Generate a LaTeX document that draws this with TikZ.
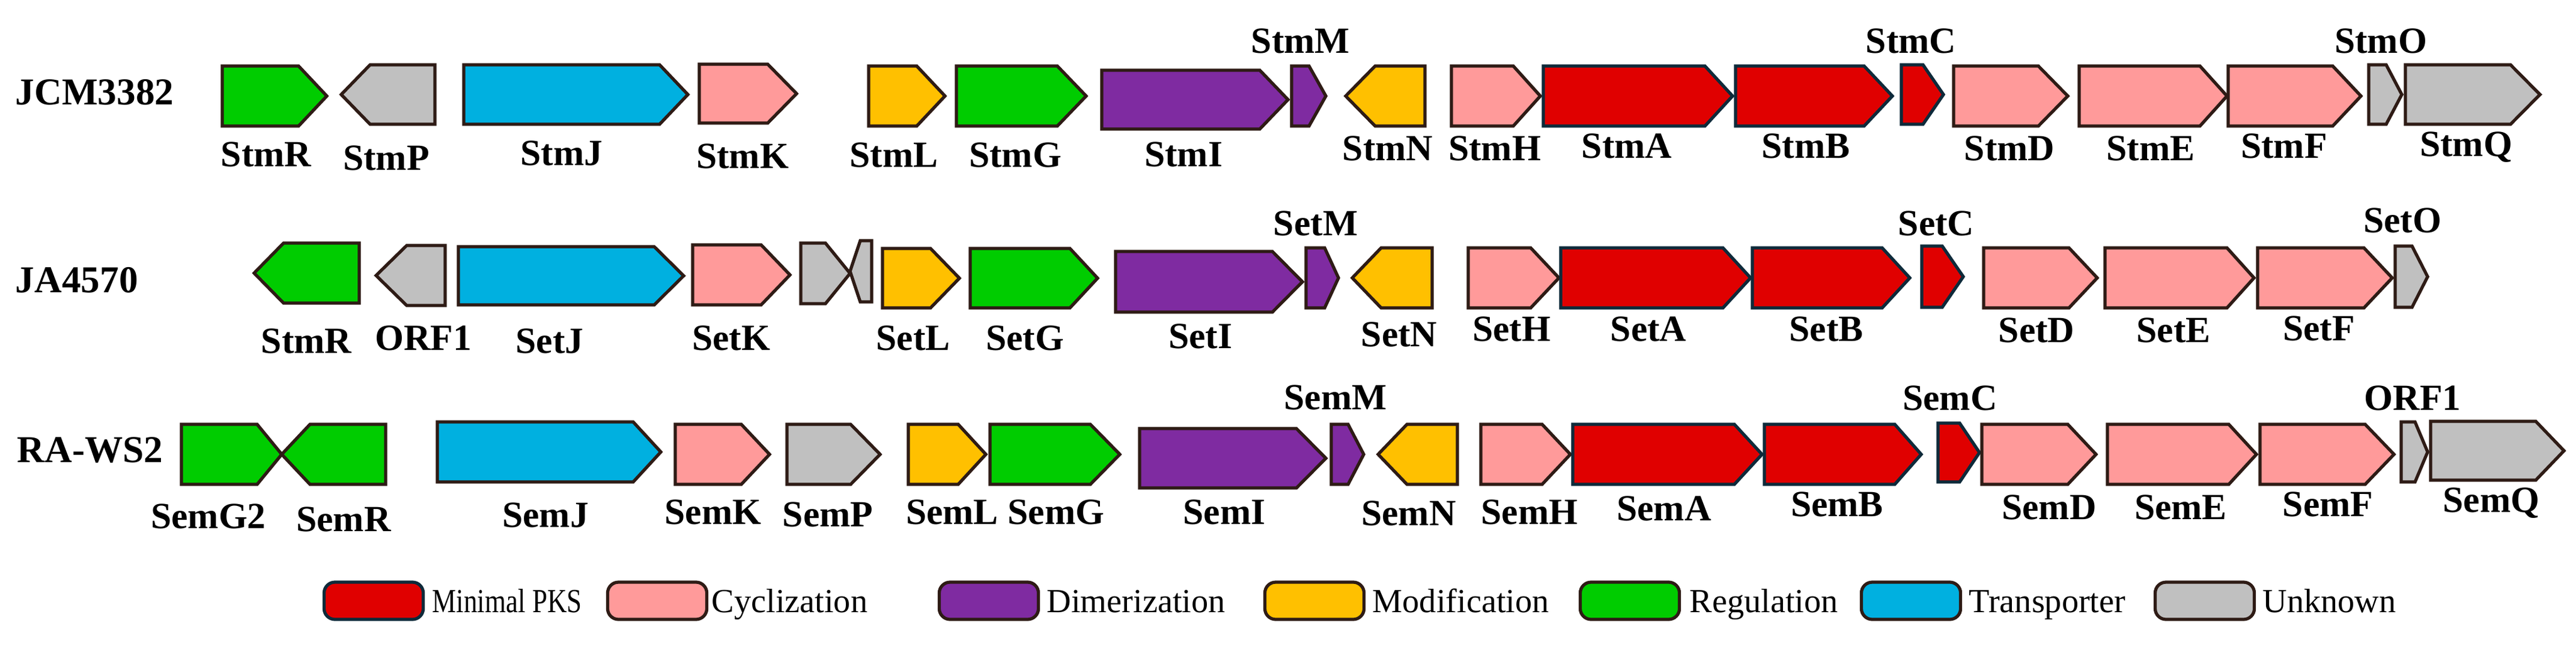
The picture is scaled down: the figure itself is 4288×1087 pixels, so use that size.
\documentclass[tikz,border=0pt]{standalone}
\usepackage{graphicx}
\usepackage{fontspec}
\setmainfont{Liberation Serif}
\definecolor{cpks}{HTML}{E00000}
\definecolor{ccyc}{HTML}{FF9A9A}
\definecolor{cdim}{HTML}{7F2BA1}
\definecolor{cmod}{HTML}{FFC000}
\definecolor{creg}{HTML}{00CC00}
\definecolor{ctra}{HTML}{00B0E0}
\definecolor{cunk}{HTML}{C0C0C0}
\definecolor{outl}{HTML}{2E1B15}
\definecolor{pksout}{HTML}{0E2A3A}
\newcommand\rgene[6]{\draw[#6] (#1,#4) -- (#2,#4) -- (#3,{(#4+#5)/2}) -- (#2,#5) -- (#1,#5) -- cycle;}
\newcommand\lgene[6]{\draw[#6] (#3,#4) -- (#2,#4) -- (#1,{(#4+#5)/2}) -- (#2,#5) -- (#3,#5) -- cycle;}
\begin{document}
\begin{tikzpicture}[x=0.01cm,y=-0.01cm,
  ol/.style={draw=outl, line width=1.5pt, line join=miter},
  pks/.style={ol, draw=pksout, fill=cpks},
  cyc/.style={ol, fill=ccyc},
  dim/.style={ol, fill=cdim},
  mod/.style={ol, fill=cmod},
  reg/.style={ol, fill=creg},
  tra/.style={ol, fill=ctra},
  unk/.style={ol, fill=cunk},
  gl/.style={font=\fontsize{17.5}{20}\selectfont\bfseries, anchor=base, inner sep=0pt},
  sl/.style={font=\fontsize{18}{20}\selectfont\bfseries, anchor=base west, inner sep=0pt},
  ll/.style={font=\fontsize{16}{19}\selectfont, anchor=base west, inner sep=0pt},
  legbox/.style={ol, rounded corners=0.18cm, minimum width=1.65cm, minimum height=0.62cm, inner sep=0pt}]
\useasboundingbox (0,0) rectangle (4288,1087);

% ---------- Row 1: JCM3382 ----------
\node[sl] (s1) at (25,174) {JCM3382};
\rgene{370}{497}{544}{110}{210}{reg}
\lgene{568}{616}{724}{108}{207}{unk}
\rgene{772}{1098}{1145}{108}{207}{tra}
\rgene{1164}{1278}{1326}{107}{205}{cyc}
\rgene{1446}{1526}{1573}{110}{210}{mod}
\rgene{1592}{1760}{1808}{110}{210}{reg}
\rgene{1834}{2097}{2144}{117}{215}{dim}
\rgene{2150}{2179}{2207}{110}{210}{dim}
\lgene{2240}{2289}{2372}{110}{210}{mod}
\rgene{2416}{2519}{2564}{110}{210}{cyc}
\rgene{2569}{2838}{2884}{110}{210}{pks}
\rgene{2889}{3103}{3150}{110}{210}{pks}
\rgene{3165}{3201}{3235}{108}{207}{pks}
\rgene{3252}{3393}{3442}{110}{210}{cyc}
\rgene{3461}{3662}{3707}{110}{210}{cyc}
\rgene{3709}{3883}{3930}{110}{210}{cyc}
\rgene{3943}{3972}{3998}{108}{207}{unk}
\rgene{4004}{4179}{4228}{108}{207}{unk}
\node[gl] (a1) at (443,277) {StmR};
\node[gl] (a2) at (643,283) {StmP};
\node[gl] (a3) at (935,275) {StmJ};
\node[gl] (a4) at (1236,280) {StmK};
\node[gl] (a5) at (1488,278) {StmL};
\node[gl] (a6) at (1690,278) {StmG};
\node[gl] (a7) at (1970,277) {StmI};
\node[gl] (a8) at (2165,88) {StmM};
\node[gl] (a9) at (2310,267) {StmN};
\node[gl] (a10) at (2488,267) {StmH};
\node[gl] (a11) at (2708,263) {StmA};
\node[gl] (a12) at (3006,263) {StmB};
\node[gl] (a13) at (3181,88) {StmC};
\node[gl] (a14) at (3345,267) {StmD};
\node[gl] (a15) at (3580,267) {StmE};
\node[gl] (a16) at (3802,263) {StmF};
\node[gl] (a17) at (3963,88) {StmO};
\node[gl] (a18) at (4105,260) {StmQ};

% ---------- Row 2: JA4570 ----------
\node[sl] (s2) at (25,487) {JA4570};
\lgene{423}{472}{598}{405}{505}{reg}
\lgene{626}{677}{741}{409}{509}{unk}
\rgene{763}{1089}{1138}{411}{508}{tra}
\rgene{1153}{1267}{1315}{408}{508}{cyc}
\rgene{1333}{1374}{1415}{405}{506}{unk}
\lgene{1415}{1432}{1451}{401}{503}{unk}
\rgene{1469}{1549}{1597}{414}{513}{mod}
\rgene{1615}{1781}{1827}{414}{513}{reg}
\rgene{1857}{2118}{2168}{419}{520}{dim}
\rgene{2174}{2205}{2228}{413}{513}{dim}
\lgene{2251}{2299}{2384}{413}{513}{mod}
\rgene{2444}{2548}{2595}{413}{513}{cyc}
\rgene{2598}{2868}{2914}{413}{513}{pks}
\rgene{2917}{3133}{3179}{413}{513}{pks}
\rgene{3199}{3233}{3268}{410}{512}{pks}
\rgene{3302}{3444}{3491}{413}{513}{cyc}
\rgene{3504}{3707}{3752}{413}{513}{cyc}
\rgene{3758}{3935}{3982}{413}{513}{cyc}
\rgene{3987}{4015}{4041}{410}{512}{unk}
\node[gl] (b1) at (510,588) {StmR};
\node[gl] (b2) at (705,583) {ORF1};
\node[gl] (b3) at (915,588) {SetJ};
\node[gl] (b4) at (1217,583) {SetK};
\node[gl] (b5) at (1520,583) {SetL};
\node[gl] (b6) at (1706,583) {SetG};
\node[gl] (b7) at (1998,580) {SetI};
\node[gl] (b8) at (2190,392) {SetM};
\node[gl] (b9) at (2329,577) {SetN};
\node[gl] (b10) at (2516,568) {SetH};
\node[gl] (b11) at (2744,568) {SetA};
\node[gl] (b12) at (3040,568) {SetB};
\node[gl] (b13) at (3223,392) {SetC};
\node[gl] (b14) at (3390,570) {SetD};
\node[gl] (b15) at (3618,570) {SetE};
\node[gl] (b16) at (3860,567) {SetF};
\node[gl] (b17) at (3999,387) {SetO};

% ---------- Row 3: RA-WS2 ----------
\node[sl] (s3) at (28,770) {RA-WS2};
\rgene{302}{428}{469}{707}{807}{reg}
\lgene{469}{516}{642}{707}{807}{reg}
\rgene{728}{1054}{1100}{703}{803}{tra}
\rgene{1124}{1234}{1281}{707}{807}{cyc}
\rgene{1310}{1416}{1465}{707}{807}{unk}
\rgene{1512}{1595}{1641}{707}{807}{mod}
\rgene{1648}{1815}{1864}{707}{807}{reg}
\rgene{1897}{2158}{2207}{714}{813}{dim}
\rgene{2216}{2244}{2270}{707}{807}{dim}
\lgene{2294}{2342}{2426}{707}{807}{mod}
\rgene{2465}{2567}{2614}{707}{807}{cyc}
\rgene{2618}{2887}{2933}{707}{807}{pks}
\rgene{2937}{3154}{3198}{707}{807}{pks}
\rgene{3226}{3262}{3295}{705}{803}{pks}
\rgene{3299}{3442}{3489}{707}{807}{cyc}
\rgene{3508}{3710}{3756}{707}{807}{cyc}
\rgene{3762}{3937}{3985}{707}{807}{cyc}
\rgene{3997}{4020}{4041}{703}{803}{unk}
\rgene{4046}{4221}{4268}{702}{800}{unk}
\node[gl] (c1) at (347,880) {SemG2};
\node[gl] (c2) at (572,885) {SemR};
\node[gl] (c3) at (908,878) {SemJ};
\node[gl] (c4) at (1187,873) {SemK};
\node[gl] (c5) at (1378,877) {SemP};
\node[gl] (c6) at (1585,873) {SemL};
\node[gl] (c7) at (1758,873) {SemG};
\node[gl] (c8) at (2038,873) {SemI};
\node[gl] (c9) at (2223,682) {SemM};
\node[gl] (c10) at (2345,875) {SemN};
\node[gl] (c11) at (2546,873) {SemH};
\node[gl] (c12) at (2770,867) {SemA};
\node[gl] (c13) at (3058,860) {SemB};
\node[gl] (c14) at (3246,683) {SemC};
\node[gl] (c15) at (3411,865) {SemD};
\node[gl] (c16) at (3630,865) {SemE};
\node[gl] (c17) at (3875,860) {SemF};
\node[gl] (c18) at (4016,683) {ORF1};
\node[gl] (c19) at (4147,853) {SemQ};

% ---------- Legend ----------
\node[legbox, draw=pksout, fill=cpks] (k1) at (622,1001) {};
\node[ll] (t1) at (719,1020) {\scalebox{0.8}[1]{Minimal PKS}};
\node[legbox, fill=ccyc] (k2) at (1094,1001) {};
\node[ll] (t2) at (1184,1020) {Cyclization};
\node[legbox, fill=cdim] (k3) at (1646,1001) {};
\node[ll] (t3) at (1742,1020) {Dimerization};
\node[legbox, fill=cmod] (k4) at (2188,1001) {};
\node[ll] (t4) at (2284,1020) {Modification};
\node[legbox, fill=creg] (k5) at (2713,1001) {};
\node[ll] (t5) at (2812,1020) {Regulation};
\node[legbox, fill=ctra] (k6) at (3181,1001) {};
\node[ll] (t6) at (3277,1020) {Transporter};
\node[legbox, fill=cunk] (k7) at (3670,1001) {};
\node[ll] (t7) at (3766,1020) {Unknown};
\end{tikzpicture}
\end{document}
